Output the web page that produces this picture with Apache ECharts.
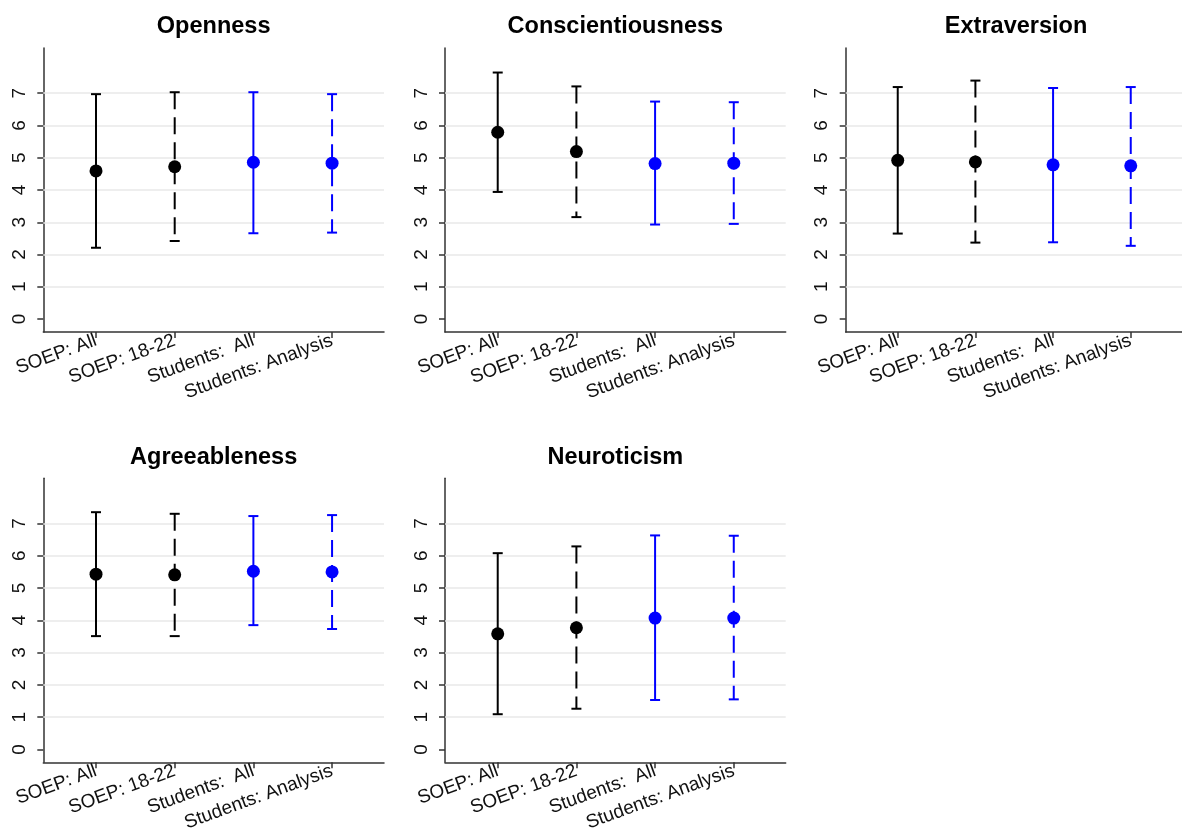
<!DOCTYPE html>
<html>
<head>
<meta charset="utf-8">
<script src="https://cdn.jsdelivr.net/npm/echarts@6/dist/echarts.min.js"></script>
<style>
  html, body { margin: 0; padding: 0; background: #ffffff; }
  #chart { width: 1182px; height: 836px; }
</style>
</head>
<body>
<div id="chart"></div>
<script>
// Samples compared on each Big Five trait
const groups = ['SOEP: All', 'SOEP: 18-22', 'Students:  All', 'Students: Analysis'];
const traits = ['Openness', 'Conscientiousness', 'Extraversion', 'Agreeableness', 'Neuroticism'];
const yTicks = [0, 1, 2, 3, 4, 5, 6, 7];
const gridValues = [1, 2, 3, 4, 5, 6, 7];

// Mean and interval bounds, one entry per sample (same order as groups)
const opennessMean  = [4.59, 4.72, 4.86, 4.83];
const opennessLow   = [2.21, 2.42, 2.66, 2.68];
const opennessHigh  = [6.97, 7.03, 7.03, 6.97];

const conscMean     = [5.79, 5.19, 4.82, 4.83];
const conscLow      = [3.94, 3.16, 2.93, 2.95];
const conscHigh     = [7.64, 7.21, 6.74, 6.72];

const extraMean     = [4.92, 4.87, 4.78, 4.75];
const extraLow      = [2.65, 2.37, 2.38, 2.27];
const extraHigh     = [7.19, 7.39, 7.16, 7.19];

const agreeMean     = [5.43, 5.41, 5.52, 5.50];
const agreeLow      = [3.51, 3.51, 3.85, 3.73];
const agreeHigh     = [7.35, 7.30, 7.23, 7.26];

const neuroMean     = [3.58, 3.77, 4.07, 4.07];
const neuroLow      = [1.09, 1.26, 1.53, 1.55];
const neuroHigh     = [6.08, 6.29, 6.63, 6.62];

const traitData = [
  [opennessMean, opennessLow, opennessHigh],
  [conscMean, conscLow, conscHigh],
  [extraMean, extraLow, extraHigh],
  [agreeMean, agreeLow, agreeHigh],
  [neuroMean, neuroLow, neuroHigh]
];

// Styling per sample
const groupColor = ['#000000', '#000000', '#0000ff', '#0000ff'];
const groupDashed = [false, true, false, true];

// Panel placement (pixels)
const panelW = 340.7, panelH = 284;
const panels = [
  { left: 43.3,  top: 48 },
  { left: 445,   top: 48 },
  { left: 845.7, top: 48 },
  { left: 43.3,  top: 478.3 },
  { left: 445,   top: 478.3 }
];

const FONT = '"Liberation Sans", Arial, Helvetica, sans-serif';
const AXIS_COLOR = '#333333';

const option = {
  animation: false,
  backgroundColor: '#ffffff',
  title: [], grid: [], xAxis: [], yAxis: [], series: []
};

panels.forEach((p, i) => {
  option.title.push({
    text: traits[i],
    left: p.left + panelW / 2,
    top: p.top - 33,
    padding: 0,
    textAlign: 'center',
    textStyle: { fontFamily: FONT, fontSize: 23.5, fontWeight: 'bold', color: '#000' }
  });
  option.grid.push({ left: p.left, top: p.top, width: panelW, height: panelH, containLabel: false });
  option.xAxis.push({
    type: 'value', gridIndex: i, min: 0.33, max: 4.66,
    axisLine: { show: true, onZero: false, lineStyle: { color: AXIS_COLOR, width: 1.5 } },
    axisTick: { show: true, customValues: [1, 2, 3, 4], length: 6, lineStyle: { color: AXIS_COLOR, width: 1.5 } },
    axisLabel: {
      customValues: [1, 2, 3, 4], rotate: 20, margin: 8,
      fontFamily: FONT, fontSize: 19, color: '#111',
      formatter: v => groups[Math.round(v) - 1]
    },
    splitLine: { show: false }
  });
  option.yAxis.push({
    type: 'value', gridIndex: i, min: -0.4, max: 8.4,
    axisLine: { show: true, onZero: false, lineStyle: { color: AXIS_COLOR, width: 1.5 } },
    axisTick: { show: true, customValues: yTicks, length: 6, lineStyle: { color: AXIS_COLOR, width: 1.5 } },
    axisLabel: {
      customValues: yTicks, rotate: 90, margin: 14,
      fontFamily: FONT, fontSize: 19, color: '#111'
    },
    splitLine: { show: false }
  });

  const [mean, low, high] = traitData[i];

  // Horizontal reference lines, kept beneath the data marks
  option.series.push({
    type: 'line', xAxisIndex: i, yAxisIndex: i, data: [], z: 1, silent: true,
    markLine: {
      silent: true, symbol: 'none', label: { show: false }, z: 1,
      lineStyle: { color: '#e9e9e9', width: 1.5, type: 'solid' },
      data: gridValues.map(v => ({ yAxis: v }))
    }
  });

  // Interval bars with caps
  option.series.push({
    type: 'custom', xAxisIndex: i, yAxisIndex: i, z: 3,
    data: groups.map((g, k) => [k + 1, low[k], high[k]]),
    renderItem: (params, api) => {
      const k = api.value(0) - 1;
      const top = api.coord([api.value(0), api.value(2)]);
      const bot = api.coord([api.value(0), api.value(1)]);
      const style = {
        stroke: groupColor[k], lineWidth: 2, fill: null,
        lineDash: groupDashed[k] ? [17, 8] : null
      };
      const capStyle = { stroke: groupColor[k], lineWidth: 2 };
      const hw = 5;
      return {
        type: 'group',
        children: [
          { type: 'line', shape: { x1: top[0], y1: top[1], x2: bot[0], y2: bot[1] }, style },
          { type: 'line', shape: { x1: top[0] - hw, y1: top[1], x2: top[0] + hw, y2: top[1] }, style: capStyle },
          { type: 'line', shape: { x1: bot[0] - hw, y1: bot[1], x2: bot[0] + hw, y2: bot[1] }, style: capStyle }
        ]
      };
    }
  });

  // Means
  option.series.push({
    type: 'scatter', xAxisIndex: i, yAxisIndex: i, z: 10,
    symbol: 'circle', symbolSize: 13,
    data: groups.map((g, k) => ({ value: [k + 1, mean[k]], itemStyle: { color: groupColor[k], opacity: 1 } }))
  });
});

const chart = echarts.init(document.getElementById('chart'), null, { renderer: 'canvas' });
chart.setOption(option);
</script>
</body>
</html>
